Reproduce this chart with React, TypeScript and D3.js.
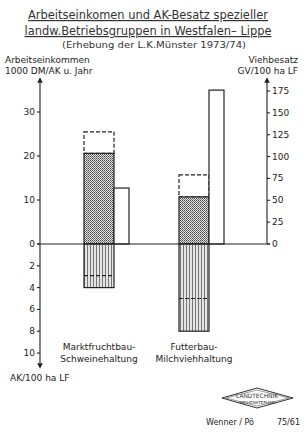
import React from "react";
import * as d3 from "d3";

const categories = ["Marktfruchtbau-|Schweinehaltung", "Futterbau-|Milchviehhaltung"];
const income = [20.6, 10.7];
const incomeDashed = [25.5, 15.7];
const livestock = [64, 176];
const labour = [4.0, 8.0];
const labourDashed = [2.9, 5.0];
const leftTicks = [0, 10, 20, 30];
const belowTicks = [2, 4, 6, 8, 10];
const rightTicks = [0, 25, 50, 75, 100, 125, 150, 175];

const W = 306;
const H = 432;
const axL = 40;
const axR = 267;
const zeroY = 244;
const font = "'DejaVu Sans', sans-serif";

export default function App() {
  const yUp = d3.scaleLinear().domain([0, 30]).range([zeroY, 112]);
  const yDown = d3.scaleLinear().domain([0, 10]).range([zeroY, 353]);
  const yRight = d3.scaleLinear().domain([0, 175]).range([zeroY, 91]);
  const x = d3.scaleBand().domain(categories).range([84, 274]);
  const bw = 30;
  const wb = 15;

  return (
    <svg width={W} height={H} style={{ position: "absolute", left: 0, top: 0 }} fontFamily={font}>
      <defs>
        <pattern id="dots" width="2" height="2" patternUnits="userSpaceOnUse">
          <rect width="2" height="2" fill="#e2e2e2" />
          <rect width="1" height="1" fill="#444" />
          <rect x="1" y="1" width="1" height="1" fill="#777" />
        </pattern>
        <pattern id="vlines" width="3" height="3" patternUnits="userSpaceOnUse">
          <rect width="3" height="3" fill="#e4e4e4" />
          <rect width="1" height="3" fill="#777" />
        </pattern>
        <marker id="arr" viewBox="0 0 6 6" refX="3" refY="3" markerWidth="5" markerHeight="5" orient="auto">
          <path d="M0,0L6,3L0,6z" fill="#222" />
        </marker>
      </defs>
      <rect width={W} height={H} fill="#fff" />

      {/* Titel */}
      <g fill="#333" textAnchor="middle">
        <text x={148} y={19} fontSize={12} textDecoration="underline" textLength={240} lengthAdjust="spacingAndGlyphs">
          Arbeitseinkomen und AK-Besatz spezieller
        </text>
        <text x={148} y={35} fontSize={12} textDecoration="underline" textLength={247} lengthAdjust="spacingAndGlyphs">
          landw.Betriebsgruppen in Westfalen– Lippe
        </text>
        <text x={154} y={48} fontSize={9} textLength={184} lengthAdjust="spacingAndGlyphs">
          (Erhebung der L.K.Münster 1973/74)
        </text>
      </g>

      {/* Achsentitel */}
      <g fill="#222" fontSize={9}>
        <text x={5} y={63}>Arbeitseinkommen</text>
        <text x={5} y={74}>1000 DM/AK u. Jahr</text>
        <text x={298} y={63} textAnchor="end">Viehbesatz</text>
        <text x={298} y={74} textAnchor="end">GV/100 ha LF</text>
        <text x={10} y={381}>AK/100 ha LF</text>
      </g>

      {/* Balken */}
      {categories.map((c, i) => {
        const x0 = x(c)!;
        return (
          <g key={c}>
            <rect x={x0} y={yUp(incomeDashed[i])} width={bw} height={yUp(income[i]) - yUp(incomeDashed[i])}
              fill="none" stroke="#222" strokeWidth={1.2} strokeDasharray="4,2" />
            <rect x={x0} y={yUp(income[i])} width={bw} height={zeroY - yUp(income[i])}
              fill="url(#dots)" stroke="#222" strokeWidth={1.2} />
            <rect x={x0 + bw} y={yRight(livestock[i])} width={wb} height={zeroY - yRight(livestock[i])}
              fill="#fff" stroke="#222" strokeWidth={1.2} />
            <rect x={x0} y={zeroY} width={bw} height={yDown(labour[i]) - zeroY}
              fill="url(#vlines)" stroke="#222" strokeWidth={1.2} />
            <line x1={x0} x2={x0 + bw} y1={yDown(labourDashed[i])} y2={yDown(labourDashed[i])}
              stroke="#222" strokeWidth={1.2} strokeDasharray="4,2" />
            {c.split("|").map((t, j) => (
              <text key={t} x={x0 + bw / 2} y={350 + j * 11.5} fontSize={9} textAnchor="middle" fill="#222">
                {t}
              </text>
            ))}
          </g>
        );
      })}

      {/* Achsen */}
      <g stroke="#222" strokeWidth={1.1}>
        <line x1={axL} x2={axL} y1={zeroY} y2={80} markerEnd="url(#arr)" />
        <line x1={axL} x2={axL} y1={zeroY} y2={366} markerEnd="url(#arr)" />
        <line x1={axR} x2={axR} y1={zeroY} y2={80} markerEnd="url(#arr)" />
        <line x1={axL - 3} x2={axR + 3} y1={zeroY} y2={zeroY} />
        {leftTicks.map((t) => (
          <line key={"l" + t} x1={axL - 3} x2={axL} y1={yUp(t)} y2={yUp(t)} />
        ))}
        {belowTicks.map((t) => (
          <line key={"b" + t} x1={axL - 3} x2={axL} y1={yDown(t)} y2={yDown(t)} />
        ))}
        {rightTicks.map((t) => (
          <line key={"r" + t} x1={axR} x2={axR + 3} y1={yRight(t)} y2={yRight(t)} />
        ))}
      </g>
      <g fill="#222" fontSize={9}>
        {leftTicks.map((t) => (
          <text key={"lt" + t} x={axL - 5} y={yUp(t) + 3} textAnchor="end">{t}</text>
        ))}
        {belowTicks.map((t) => (
          <text key={"bt" + t} x={axL - 5} y={yDown(t) + 3} textAnchor="end">{t}</text>
        ))}
        {rightTicks.map((t) => (
          <text key={"rt" + t} x={axR + 5} y={yRight(t) + 3}>{t}</text>
        ))}
      </g>

      {/* Logo und Fußzeile */}
      <g stroke="#333" fill="none" strokeWidth={1}>
        <path d="M222,398 L257,388 L293,398 L257,408 Z" />
        <path d="M226,398 L257,390 L289,398 L257,406 Z" strokeWidth={0.5} />
      </g>
      <g fill="#333" textAnchor="middle">
        <text x={257} y={398} fontSize={6} textLength={42} lengthAdjust="spacingAndGlyphs">LANDTECHNIK</text>
        <text x={257} y={403.5} fontSize={4} textLength={36} lengthAdjust="spacingAndGlyphs">WEIHENSTEPHAN</text>
      </g>
      <g fill="#222" fontSize={8}>
        <text x={206} y={425}>Wenner / Pö</text>
        <text x={300} y={425} textAnchor="end">75/61</text>
      </g>
    </svg>
  );
}
